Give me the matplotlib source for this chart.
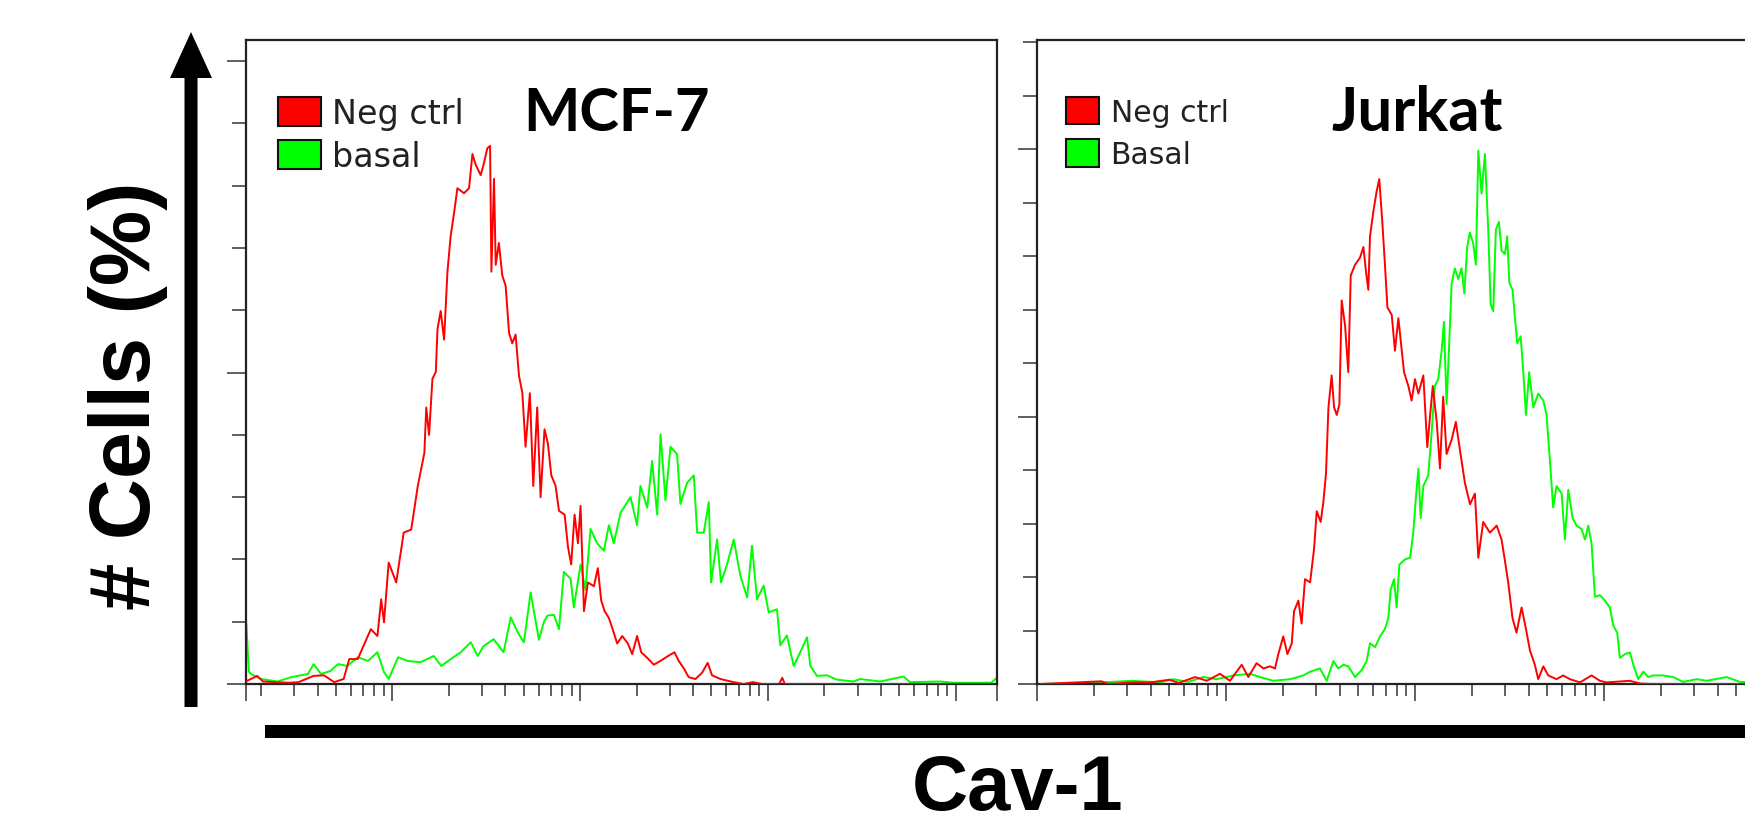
import numpy as np
import matplotlib
matplotlib.use("Agg")
import matplotlib.pyplot as plt
from matplotlib.patches import Patch, Rectangle, FancyArrow
from matplotlib.ticker import FixedLocator, LogLocator, MultipleLocator, NullFormatter

# histogram data, x = log10 of Cav-1 fluorescence, y = cell counts (axis units)
mcf7_neg_x = [0.225, 0.28, 0.31, 0.37, 0.45, 0.50, 0.58, 0.635, 0.69, 0.74, 0.77, 0.815, 0.85, 0.885,
              0.92, 0.94, 0.955, 0.98, 1.02, 1.06, 1.10, 1.135, 1.17, 1.18, 1.195, 1.213, 1.231, 1.24,
              1.257, 1.275, 1.293, 1.31, 1.328, 1.346, 1.381, 1.408, 1.426, 1.443, 1.47, 1.488, 1.505,
              1.52, 1.527, 1.541, 1.55, 1.567, 1.585, 1.603, 1.621, 1.638, 1.656, 1.674, 1.692, 1.709,
              1.732, 1.75, 1.771, 1.789, 1.81, 1.828, 1.846, 1.869, 1.887, 1.917, 1.935, 1.952, 1.97,
              1.988, 2.002, 2.02, 2.041, 2.073, 2.094, 2.112, 2.13, 2.153, 2.176, 2.197, 2.224, 2.254,
              2.277, 2.303, 2.325, 2.357, 2.392, 2.427, 2.463, 2.502, 2.525, 2.552, 2.578, 2.614, 2.649,
              2.679, 2.702, 2.747, 2.817, 2.87, 2.92, 2.97, 3.06, 3.076, 3.09, 3.5, 4.2]
mcf7_neg_y = [0.5, 1.3, 0.4, 0.3, 0.2, 0.3, 1.3, 1.4, 0.3, 0.8, 4.0, 4.0, 6.4, 8.8,
              7.7, 13.6, 9.9, 19.5, 16.3, 24.3, 24.8, 31.8, 37.1, 44.4, 40.0, 49.0, 50.1, 57.0,
              59.9, 55.3, 66.2, 71.9, 75.6, 79.6, 78.8, 79.6, 85.1, 83.4, 81.7, 83.7, 86.0,
              86.4, 66.2, 81.1, 67.3, 70.8, 65.6, 63.9, 56.4, 54.7, 56.1, 49.5, 46.7, 38.1,
              46.7, 31.8, 44.4, 30.0, 40.9, 38.6, 33.5, 31.8, 27.8, 27.2, 22.0, 19.2, 27.2,
              22.6, 28.6, 11.7, 16.3, 15.7, 18.6, 13.4, 11.7, 10.6, 8.5, 6.5, 7.7, 6.5,
              4.8, 7.7, 5.1, 4.2, 3.1, 3.7, 4.4, 5.1, 3.7, 2.5, 1.1, 0.8, 1.8,
              3.4, 1.4, 0.8, 0.3, 0.0, 0.3, 0.0, 0.0, 1.0, 0.0, 0.0, 0.0]

mcf7_basal_x = [0.222, 0.235, 0.247, 0.30, 0.39, 0.46, 0.55, 0.58, 0.62, 0.67, 0.71, 0.76, 0.815, 0.87,
                0.92, 0.955, 0.98, 1.03, 1.08, 1.15, 1.22, 1.26, 1.31, 1.364, 1.417, 1.454, 1.486,
                1.539, 1.592, 1.63, 1.667, 1.70, 1.736, 1.78, 1.807, 1.826, 1.86, 1.887, 1.913, 1.949,
                1.966, 2.002, 2.028, 2.055, 2.09, 2.126, 2.153, 2.179, 2.215, 2.268, 2.303, 2.321,
                2.357, 2.383, 2.41, 2.428, 2.454, 2.481, 2.516, 2.534, 2.569, 2.605, 2.623, 2.658,
                2.685, 2.697, 2.729, 2.75, 2.782, 2.818, 2.853, 2.889, 2.915, 2.942, 2.977, 3.004,
                3.048, 3.066, 3.101, 3.137, 3.172, 3.208, 3.226, 3.261, 3.314, 3.367, 3.456, 3.49,
                3.598, 3.722, 3.757, 3.917, 3.988, 4.19, 4.215]
mcf7_basal_y = [9.6, 2.0, 1.6, 0.8, 0.4, 1.1, 1.6, 3.2, 1.6, 2.1, 3.2, 2.9, 4.3, 3.7,
                5.1, 1.9, 0.8, 4.3, 3.7, 3.5, 4.5, 2.9, 4.0, 5.1, 6.7, 4.5, 6.1,
                7.2, 5.1, 10.7, 8.3, 6.7, 14.7, 7.1, 10.0, 11.0, 11.1, 8.8, 18.0, 16.9,
                12.3, 19.2, 15.1, 24.9, 22.6, 21.4, 25.5, 22.6, 27.5, 30.0, 25.5, 31.8,
                28.3, 35.8, 27.2, 40.1, 29.5, 38.1, 36.9, 28.9, 32.3, 33.5, 24.3, 24.3,
                29.2, 16.3, 23.2, 16.3, 19.2, 23.2, 17.4, 13.9, 22.2, 13.6, 15.8, 11.5,
                12.0, 6.2, 7.8, 2.9, 5.1, 7.5, 2.9, 1.3, 1.4, 0.7, 0.4, 0.8,
                0.4, 1.2, 0.3, 0.4, 0.2, 0.2, 0.9]

jurkat_neg_x = [0.02, 0.34, 0.38, 0.5, 0.6, 0.7, 0.75, 0.836, 0.898, 0.968, 1.021, 1.083, 1.118, 1.162,
                1.198, 1.233, 1.259, 1.277, 1.303, 1.325, 1.348, 1.36, 1.383, 1.4, 1.418, 1.445, 1.466,
                1.48, 1.501, 1.515, 1.529, 1.542, 1.559, 1.572, 1.586, 1.6, 1.612, 1.63, 1.647, 1.66,
                1.683, 1.709, 1.727, 1.741, 1.753, 1.762, 1.78, 1.797, 1.811, 1.827, 1.841, 1.854,
                1.877, 1.894, 1.912, 1.93, 1.942, 1.965, 1.982, 2.0, 2.018, 2.044, 2.065, 2.094, 2.115,
                2.132, 2.149, 2.167, 2.194, 2.216, 2.238, 2.264, 2.291, 2.317, 2.335, 2.361, 2.396,
                2.432, 2.458, 2.476, 2.493, 2.516, 2.537, 2.564, 2.587, 2.608, 2.634, 2.652, 2.679,
                2.705, 2.749, 2.784, 2.82, 2.873, 2.934, 2.978, 3.014, 3.137, 3.19, 3.25, 4.0]
jurkat_neg_y = [0.0, 0.5, 0.0, 0.3, 0.3, 0.8, 0.2, 1.3, 0.6, 1.9, 0.6, 3.6, 1.3, 3.9,
                2.9, 3.3, 2.9, 5.6, 8.9, 5.6, 7.6, 13.6, 15.6, 11.3, 19.6, 19.0, 25.3,
                32.3, 30.3, 34.0, 39.3, 51.7, 57.7, 51.7, 50.3, 52.3, 71.7, 67.0, 58.3, 76.4,
                78.4, 79.7, 81.7, 77.0, 73.7, 83.7, 88.4, 92.1, 94.4, 86.4, 78.4, 70.4,
                69.0, 62.3, 68.4, 62.3, 58.3, 55.7, 53.0, 57.0, 54.3, 57.7, 44.3, 55.7, 49.0,
                40.3, 53.7, 43.0, 45.7, 49.0, 43.7, 37.6, 33.6, 35.6, 23.6, 30.3, 28.3,
                29.6, 27.0, 23.0, 19.0, 12.3, 9.6, 14.3, 10.3, 6.3, 3.6, 0.9, 3.3,
                1.6, 0.9, 1.6, 0.9, 0.3, 1.6, 0.6, 0.3, 0.6, 0.1, 0.0, 0.0]

jurkat_basal_x = [0.02, 0.3, 0.5, 0.65, 0.72, 0.8, 0.88, 0.95, 1.039, 1.127, 1.18, 1.25, 1.339, 1.409,
                  1.445, 1.497, 1.533, 1.568, 1.594, 1.621, 1.647, 1.683, 1.718, 1.744, 1.762, 1.789,
                  1.815, 1.841, 1.859, 1.871, 1.889, 1.903, 1.917, 1.947, 1.974, 1.991, 2.005, 2.018,
                  2.03, 2.044, 2.07, 2.088, 2.105, 2.123, 2.141, 2.153, 2.167, 2.181, 2.194, 2.211,
                  2.229, 2.246, 2.261, 2.276, 2.29, 2.308, 2.322, 2.335, 2.352, 2.37, 2.388, 2.4,
                  2.414, 2.428, 2.444, 2.458, 2.476, 2.488, 2.499, 2.516, 2.529, 2.541, 2.559, 2.573,
                  2.587, 2.604, 2.626, 2.652, 2.679, 2.696, 2.714, 2.731, 2.749, 2.776, 2.793, 2.811,
                  2.834, 2.855, 2.881, 2.899, 2.917, 2.934, 2.952, 2.978, 3.005, 3.031, 3.049, 3.07,
                  3.084, 3.111, 3.137, 3.155, 3.181, 3.208, 3.234, 3.26, 3.313, 3.366, 3.419, 3.49,
                  3.543, 3.649, 3.719, 3.8, 4.0]
jurkat_basal_y = [0.0, 0.2, 0.6, 0.3, 0.9, 0.4, 1.3, 0.9, 1.6, 1.9, 1.3, 0.6, 0.9, 1.6,
                  2.3, 2.9, 0.6, 4.3, 2.9, 3.6, 3.3, 1.3, 2.6, 4.3, 7.6, 6.9,
                  8.9, 10.3, 12.3, 17.6, 19.6, 14.3, 22.3, 23.3, 23.6, 28.3, 35.0, 40.3,
                  31.0, 37.0, 39.0, 47.0, 55.7, 57.0, 62.3, 67.7, 52.3, 63.7, 75.0, 77.7,
                  75.7, 77.7, 73.0, 81.7, 84.4, 82.4, 78.4, 99.7, 91.7, 99.1, 84.4, 71.0,
                  69.7, 85.0, 86.4, 81.0, 80.4, 83.7, 75.0, 73.7, 68.4, 63.7, 65.0, 58.3,
                  50.3, 58.3, 51.7, 54.3, 53.0, 50.3, 41.7, 33.0, 37.0, 35.6, 27.0, 36.3,
                  31.0, 29.6, 29.0, 27.0, 29.6, 26.3, 16.3, 16.6, 15.6, 14.3, 10.9, 9.6,
                  4.9, 5.6, 5.9, 3.6, 0.9, 2.3, 1.3, 1.6, 1.6, 1.3, 0.4, 0.9,
                  0.6, 1.3, 0.4, 0.3, 0.2]

panel_titles = ["MCF-7", "Jurkat"]
legend_labels = [["Neg ctrl", "basal"], ["Neg ctrl", "Basal"]]

W, H = 1745, 828
fig = plt.figure(figsize=(W / 100, H / 100), dpi=100)

# left panel: 246..997 px, right panel starts at 1037 px (runs past the edge)
axL = fig.add_axes([246 / W, (H - 685) / H, 751 / W, 644 / H])
axR = fig.add_axes([1037 / W, (H - 685) / H, 756 / W, 644 / H])

setups = [
    (axL, mcf7_neg_x, mcf7_neg_y, mcf7_basal_x, mcf7_basal_y, (0.22, 4.22), 103.4),
    (axR, jurkat_neg_x, jurkat_neg_y, jurkat_basal_x, jurkat_basal_y, (0.0, 4.0), 120.4),
]

for i, (ax, nx, ny, bx, by, (lo, hi), ytop) in enumerate(setups):
    ax.plot(10 ** np.array(bx), by, color="#00ff00", lw=1.4, zorder=2)
    ax.plot(10 ** np.array(nx), ny, color="#ff0000", lw=1.4, zorder=3)
    ax.set_xscale("log")
    ax.set_xlim(10 ** lo, 10 ** hi)
    ax.set_ylim(0, ytop)

    majors = [10 ** lo] + [10.0 ** k for k in range(1, 5) if lo < k <= hi] + [10 ** hi]
    ax.xaxis.set_major_locator(FixedLocator(majors))
    ax.xaxis.set_minor_locator(LogLocator(base=10, subs=np.arange(2, 10), numticks=20))
    ax.xaxis.set_major_formatter(NullFormatter())
    ax.xaxis.set_minor_formatter(NullFormatter())
    ax.yaxis.set_major_locator(MultipleLocator(50))
    ax.yaxis.set_minor_locator(MultipleLocator(10))
    ax.yaxis.set_major_formatter(NullFormatter())
    ax.yaxis.set_minor_formatter(NullFormatter())

    ax.tick_params(axis="x", which="major", direction="out", length=12, width=1.1, color="#333333")
    ax.tick_params(axis="x", which="minor", direction="out", length=8.5, width=1.1, color="#333333")
    ax.tick_params(axis="y", which="major", direction="out", length=13.5, width=1.1, color="#333333")
    ax.tick_params(axis="y", which="minor", direction="out", length=10, width=1.1, color="#333333")
    for sp in ax.spines.values():
        sp.set_linewidth(1.6)
        sp.set_color("#222222")

    handles = [Patch(facecolor="#ff0000", edgecolor="#111111", linewidth=1.5),
               Patch(facecolor="#00ff00", edgecolor="#111111", linewidth=1.5)]
    if i == 0:
        leg_kw = dict(bbox_to_anchor=(0.042, 0.912), prop={"family": "DejaVu Sans", "size": 24},
                      handlelength=1.3, handleheight=0.95, handletextpad=0.33, labelspacing=0.3)
    else:
        leg_kw = dict(bbox_to_anchor=(0.038, 0.912), prop={"family": "DejaVu Sans", "size": 21.5},
                      handlelength=1.1, handleheight=1.03, handletextpad=0.4, labelspacing=0.43)
    ax.legend(handles, legend_labels[i], loc="upper left", frameon=False,
              borderpad=0, borderaxespad=0, labelcolor="#222222", **leg_kw)

    title_x = 0.369 if i == 0 else 0.390
    ax.text(title_x, 0.860, panel_titles[i], transform=ax.transAxes, ha="left", va="baseline",
            fontsize=43 if i == 0 else 44.5, fontweight="bold", family="Lato", color="black")

# overlay in pixel coordinates for the big arrow, bar and axis titles
ov = fig.add_axes([0, 0, 1, 1])
ov.set_xlim(0, W)
ov.set_ylim(H, 0)
ov.axis("off")

ov.add_patch(FancyArrow(191, 708, 0, -675, width=13, head_width=42, head_length=46,
                        length_includes_head=True, color="black", lw=0))
ov.add_patch(Rectangle((265, 726), W - 265 + 5, 13, color="black", lw=0))

ov.text(150, 396, "# Cells (%)", rotation=90, rotation_mode="anchor", ha="center", va="baseline",
        fontsize=61, fontweight="bold", family="Liberation Sans", color="black")
ov.text(1018, 810, "Cav-1", ha="center", va="baseline",
        fontsize=56, fontweight="bold", family="Liberation Sans", color="black")

fig.savefig("out.png", dpi=100)
